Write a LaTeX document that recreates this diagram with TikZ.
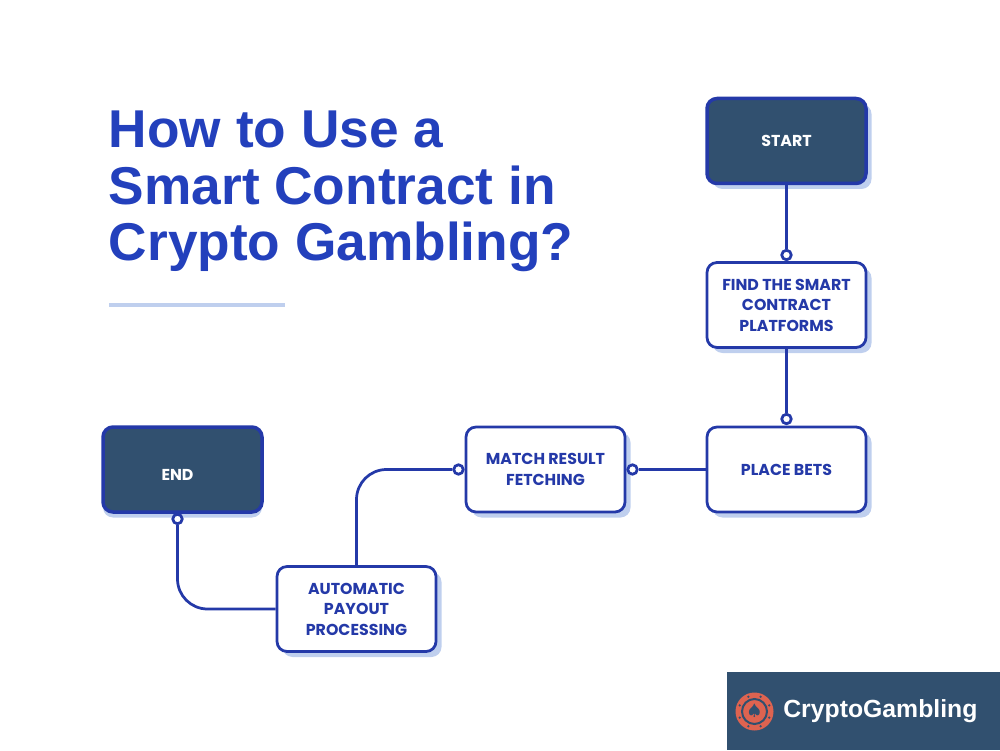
\documentclass[tikz,border=0pt]{standalone}
\usepackage{fontspec}
\setmainfont{Poppins}
\newfontfamily\logofont{Liberation Sans}
\usetikzlibrary{shadows}
\definecolor{flowblue}{HTML}{2439A8}
\definecolor{titleblue}{HTML}{2340BC}
\definecolor{shadowblue}{HTML}{BFCFEE}
\definecolor{darkslate}{HTML}{31506F}
\definecolor{chipred}{HTML}{DE6350}
\tikzset{
	stepbox/.style={draw=flowblue, line width=0.055cm, rounded corners=0.2cm, minimum width=3.18cm, minimum height=1.7cm,
		align=center, inner sep=0pt, font=\bfseries\fontsize{9}{11.7}\selectfont},
	boxshadow/.style={copy shadow={shadow xshift=#1, shadow yshift=-0.11cm, draw=none, fill=shadowblue}},
	whitebox/.style={stepbox, boxshadow=0.11cm, fill=white, text=flowblue},
	darkbox/.style={stepbox, fill=darkslate, text=white, line width=0.07cm},
	boxtext/.style={inner sep=0pt, text=white, font=\bfseries\fontsize{9}{11.7}\selectfont},
	joint/.style={circle, draw=flowblue, fill=white, line width=0.055cm, minimum size=0.19cm, inner sep=0pt},
	link/.style={draw=flowblue, line width=0.055cm}
}
\begin{document}
\begin{tikzpicture}
		%%%%% START %%%%%
		\useasboundingbox (0, 0) rectangle (20, 15);

		\node[anchor=north west, inner sep=0pt, align=left, text=titleblue, font=\logofont\bfseries\fontsize{30.3}{32.1}\selectfont] (title) at (2.17, 12.78) {How to Use a\\Smart Contract in\\Crypto Gambling?};
		\draw[line width=0.07cm, color=shadowblue] (2.18, 8.9) -- (5.7, 8.9);

		\node[darkbox, boxshadow=0.11cm] (start) at (15.73, 12.18) {START};
		\node[whitebox] (find) at (15.73, 8.9) {FIND THE SMART\\CONTRACT\\PLATFORMS};
		\node[whitebox] (place) at (15.73, 5.61) {PLACE BETS};
		\node[whitebox] (match) at (10.91, 5.61) {MATCH RESULT\\FETCHING};
		\node[whitebox] (payout) at (7.13, 2.82) {AUTOMATIC\\PAYOUT\\PROCESSING};
		\node[darkbox, boxshadow=0cm] (end) at (3.65, 5.61) {};
		\node[boxtext] (endtext) at (3.55, 5.51) {END};

		\node[joint] (j1) at (15.73, 9.9) {};
		\node[joint] (j2) at (15.73, 6.62) {};
		\node[joint] (j3) at (12.65, 5.61) {};
		\node[joint] (j4) at (9.17, 5.61) {};
		\node[joint] (j5) at (3.55, 4.62) {};

		\draw[link] (start) -- (j1);
		\draw[link] (find) -- (j2);
		\draw[link] (place) -- (j3);
		\draw[link, rounded corners=0.6cm] (j4) -| (payout);
		\draw[link, rounded corners=0.6cm] (j5) |- (payout);

		\fill[darkslate] (14.54, 0) rectangle (20, 1.56);
		\fill[chipred] (15.09, 0.77) circle (0.38);
		\draw[darkslate, line width=0.04cm] (15.09, 0.77) circle (0.25);
		\foreach \a in {0,45,...,315}
			\fill[darkslate] (15.09, 0.77) ++(\a+22.5:0.32) circle (0.025);
		\node[text=darkslate, inner sep=0pt, font=\fontsize{9}{9}\selectfont] (suit) at (15.09, 0.77) {$\spadesuit$};
		\node[anchor=west, inner sep=0pt, text=white, font=\logofont\bfseries\fontsize{14.1}{16}\selectfont] (logo) at (15.66, 0.77) {CryptoGambling};
		%%%%% END %%%%%
	\end{tikzpicture}
\end{document}
